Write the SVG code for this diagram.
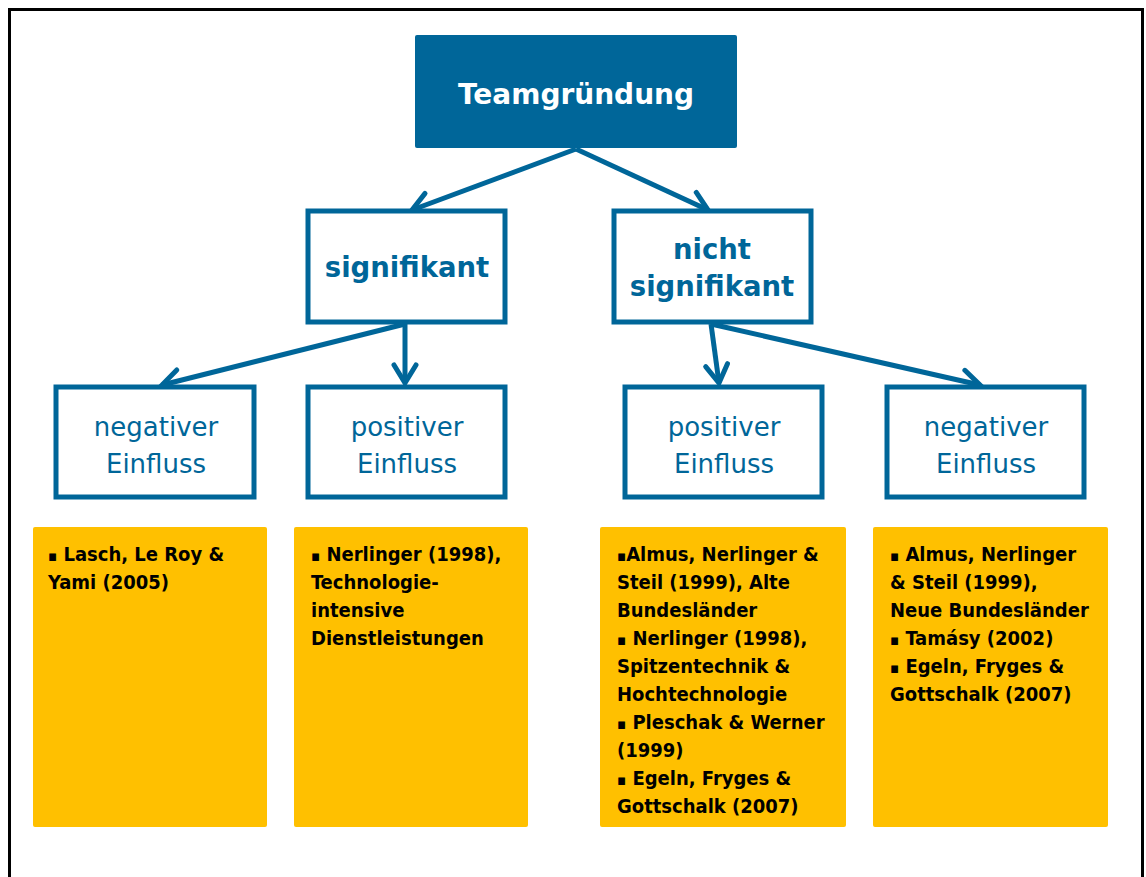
<svg xmlns="http://www.w3.org/2000/svg" width="1146" height="877" viewBox="0 0 1146 877">
  <defs>
    <marker id="chev" markerUnits="userSpaceOnUse" viewBox="-22 -14 26 28" markerWidth="26" markerHeight="28" refX="0" refY="0" orient="auto">
      <path d="M-18,-11 L0,0 L-18,11" fill="none" stroke="#006699" stroke-width="5" stroke-linecap="round" stroke-linejoin="miter"/>
    </marker>
    <style>
      .frame { fill: #ffffff; stroke: #000000; stroke-width: 3; }
      .top { fill: #006699; }
      .box { fill: #ffffff; stroke: #006699; stroke-width: 5; }
      .lit { fill: #FFC000; }
      .conn { fill: none; stroke: #006699; stroke-width: 5; marker-end: url(#chev); }
      text { font-family: "DejaVu Sans", "Liberation Sans", sans-serif; }
      .title { font-size: 28px; font-weight: bold; fill: #ffffff; text-anchor: middle; }
      .lvl1 { font-size: 27.5px; font-weight: bold; fill: #006699; text-anchor: middle; }
      .lvl2 { font-size: 26px; fill: #006699; text-anchor: middle; }
      .ref { font-family: "DejaVu Sans Condensed", "DejaVu Sans", sans-serif; font-size: 20px; font-weight: bold; fill: #000000; }
      .bul { font-size: 15px; }
    </style>
  </defs>

  <rect class="frame" x="9.5" y="9.5" width="1133" height="880"/>

  <g id="connectors">
    <line class="conn" x1="576" y1="149" x2="412" y2="210"/>
    <line class="conn" x1="576" y1="149" x2="708" y2="210"/>
    <line class="conn" x1="405" y1="324" x2="162" y2="385"/>
    <line class="conn" x1="405" y1="324" x2="405" y2="383"/>
    <line class="conn" x1="711" y1="324" x2="719" y2="383"/>
    <line class="conn" x1="711" y1="324" x2="980" y2="385"/>
  </g>

  <g id="teamgruendung">
    <rect class="top" x="415" y="35" width="322" height="113" rx="2"/>
    <text class="title" x="576" y="104">Teamgründung</text>
  </g>

  <g id="signifikant">
    <rect class="box" x="308" y="211" width="197" height="111"/>
    <text class="lvl1" x="407" y="277">signifikant</text>
  </g>

  <g id="nicht-signifikant">
    <rect class="box" x="614" y="211" width="197" height="111"/>
    <text class="lvl1" x="712" y="259">nicht</text>
    <text class="lvl1" x="712" y="296">signifikant</text>
  </g>

  <g id="sig-negativ">
    <rect class="box" x="56" y="387" width="198" height="110"/>
    <text class="lvl2" x="156" y="436">negativer</text>
    <text class="lvl2" x="156" y="473">Einfluss</text>
  </g>

  <g id="sig-positiv">
    <rect class="box" x="308" y="387" width="197" height="110"/>
    <text class="lvl2" x="407" y="436">positiver</text>
    <text class="lvl2" x="407" y="473">Einfluss</text>
  </g>

  <g id="nsig-positiv">
    <rect class="box" x="625" y="387" width="197" height="110"/>
    <text class="lvl2" x="724" y="436">positiver</text>
    <text class="lvl2" x="724" y="473">Einfluss</text>
  </g>

  <g id="nsig-negativ">
    <rect class="box" x="887" y="387" width="197" height="110"/>
    <text class="lvl2" x="986" y="436">negativer</text>
    <text class="lvl2" x="986" y="473">Einfluss</text>
  </g>

  <g id="lit-sig-negativ">
    <rect class="lit" x="33" y="527" width="234" height="300" rx="2"/>
    <text class="ref" x="48" y="561"><tspan class="bul">▪</tspan> Lasch, Le Roy &amp;</text>
    <text class="ref" x="48" y="589">Yami (2005)</text>
  </g>

  <g id="lit-sig-positiv">
    <rect class="lit" x="294" y="527" width="234" height="300" rx="2"/>
    <text class="ref" x="311" y="561"><tspan class="bul">▪</tspan> Nerlinger (1998),</text>
    <text class="ref" x="311" y="589">Technologie-</text>
    <text class="ref" x="311" y="617">intensive</text>
    <text class="ref" x="311" y="645">Dienstleistungen</text>
  </g>

  <g id="lit-nsig-positiv">
    <rect class="lit" x="600" y="527" width="246" height="300" rx="2"/>
    <text class="ref" x="617" y="561"><tspan class="bul">▪</tspan>Almus, Nerlinger &amp;</text>
    <text class="ref" x="617" y="589">Steil (1999), Alte</text>
    <text class="ref" x="617" y="617">Bundesländer</text>
    <text class="ref" x="617" y="645"><tspan class="bul">▪</tspan> Nerlinger (1998),</text>
    <text class="ref" x="617" y="673">Spitzentechnik &amp;</text>
    <text class="ref" x="617" y="701">Hochtechnologie</text>
    <text class="ref" x="617" y="729"><tspan class="bul">▪</tspan> Pleschak &amp; Werner</text>
    <text class="ref" x="617" y="757">(1999)</text>
    <text class="ref" x="617" y="785"><tspan class="bul">▪</tspan> Egeln, Fryges &amp;</text>
    <text class="ref" x="617" y="813">Gottschalk (2007)</text>
  </g>

  <g id="lit-nsig-negativ">
    <rect class="lit" x="873" y="527" width="235" height="300" rx="2"/>
    <text class="ref" x="890" y="561"><tspan class="bul">▪</tspan> Almus, Nerlinger</text>
    <text class="ref" x="890" y="589">&amp; Steil (1999),</text>
    <text class="ref" x="890" y="617">Neue Bundesländer</text>
    <text class="ref" x="890" y="645"><tspan class="bul">▪</tspan> Tamásy (2002)</text>
    <text class="ref" x="890" y="673"><tspan class="bul">▪</tspan>  Egeln, Fryges &amp;</text>
    <text class="ref" x="890" y="701">Gottschalk (2007)</text>
  </g>
</svg>
